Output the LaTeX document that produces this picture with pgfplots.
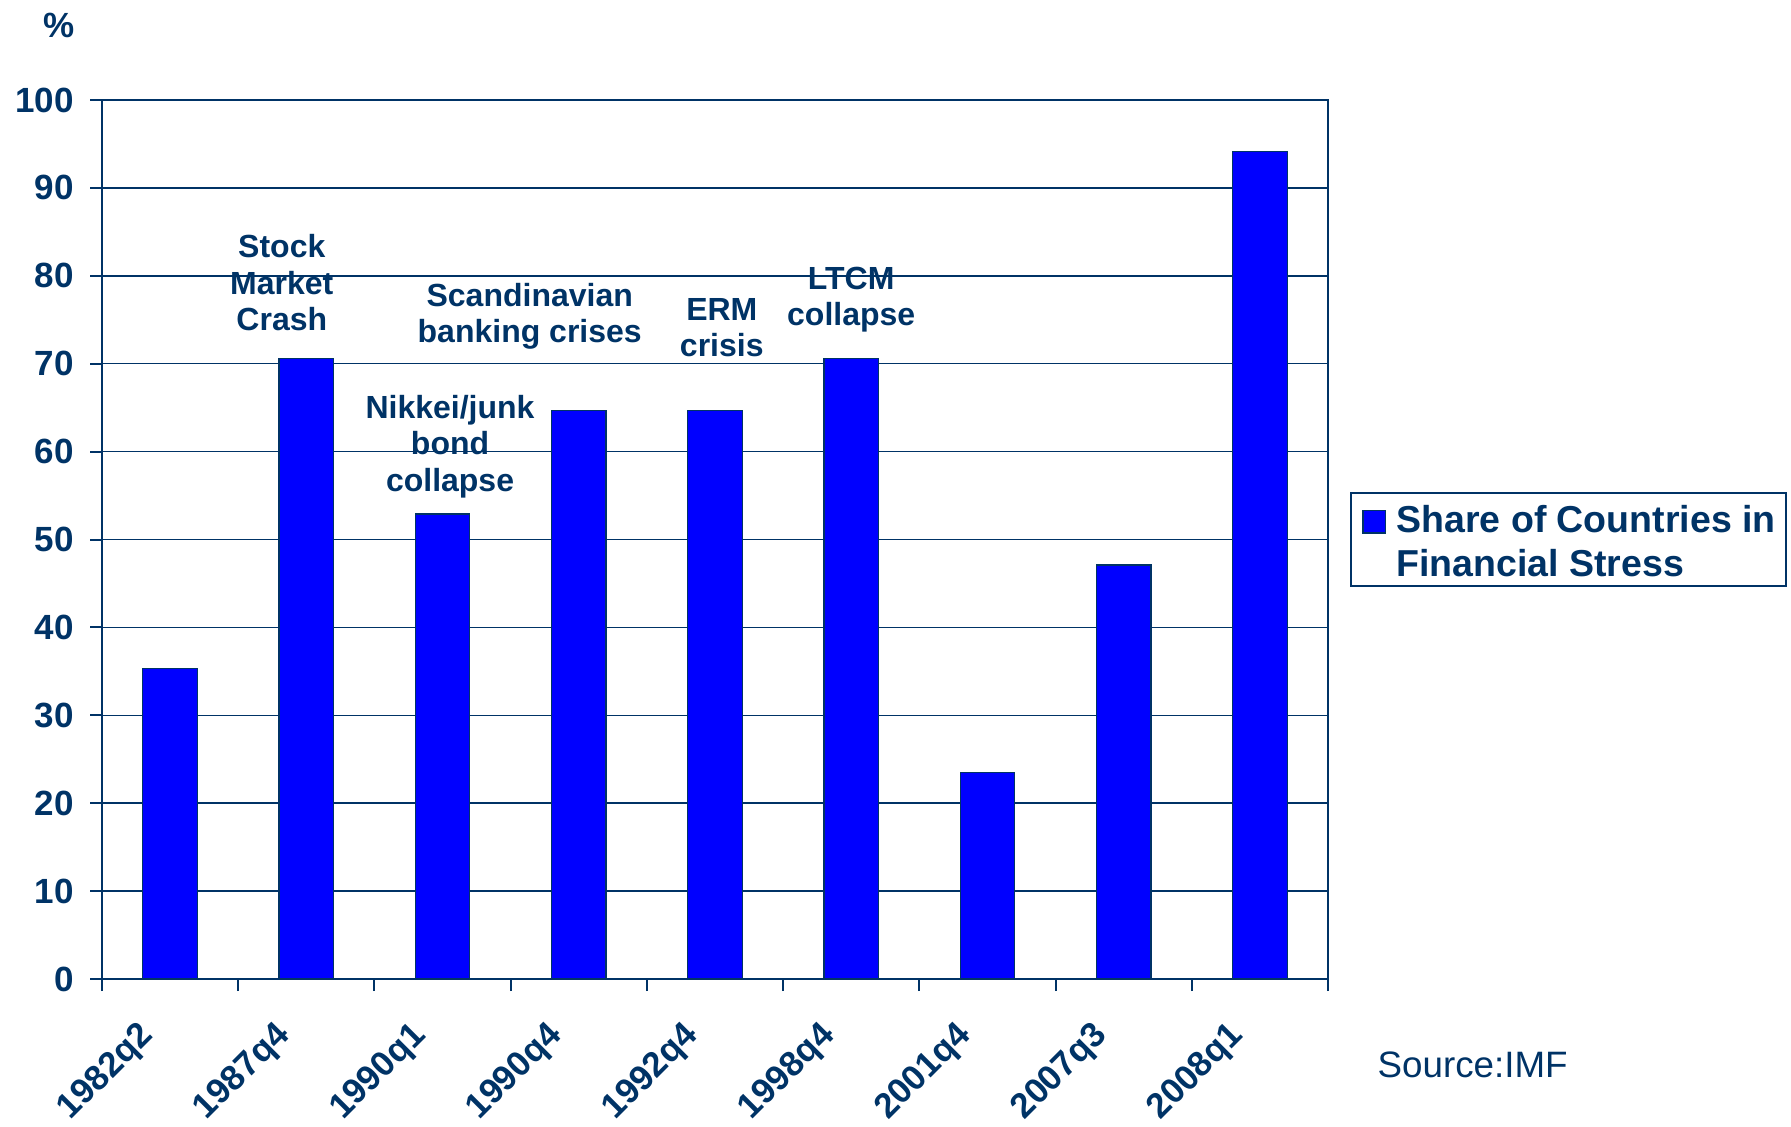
\documentclass[border=0pt]{standalone}
\usepackage{fontspec}
\setmainfont{Liberation Sans}
\usepackage{pgfplots}
\pgfplotsset{compat=1.18}
\definecolor{navy}{RGB}{0,51,102}
\definecolor{barblue}{RGB}{0,0,255}
\tikzset{annot/.style={font=\bfseries\fontsize{12.8}{14.6}\selectfont, text=navy, align=center}}
\begin{document}
\begin{tikzpicture}
\useasboundingbox (0,0) rectangle (716.4pt,450.4pt);
\begin{axis}[
  at={(40.8pt,58.8pt)}, anchor=south west,
  scale only axis, width=490.4pt, height=351.6pt,
  clip=false,
  xmin=0.5, xmax=9.5, ymin=0, ymax=100,
  xtick={1,...,9},
  xticklabels={1982q2,1987q4,1990q1,1990q4,1992q4,1998q4,2001q4,2007q3,2008q1},
  minor xtick={0.5,1.5,...,9.5},
  ytick={0,10,...,100},
  ymajorgrids, grid style={navy, line width=0.6pt},
  axis line style={navy, line width=0.8pt},
  tick align=outside, tick pos=left,
  major tick length=4.8pt, minor tick length=4.8pt,
  every tick/.style={navy, line width=0.8pt},
  major x tick style={draw=none},
  /pgf/number format/assume math mode=true,
  ticklabel style={font=\bfseries\fontsize{14}{16}\selectfont, text=navy},
  yticklabel style={xshift=-3pt},
  xticklabel style={xshift=-6.1pt, yshift=-13.3pt, rotate=45, anchor=east},
  legend image code/.code={\path[draw=none, fill=none] (0pt,0pt) rectangle (14.2pt,1pt);
    \draw[fill=barblue, draw=navy, line width=0.5pt] (2.8pt,2.6pt) rectangle (11.9pt,11.7pt);},
  legend style={at={(1,0.5)}, anchor=west, xshift=8.8pt, draw=navy, line width=0.8pt,
    font=\bfseries\fontsize{15}{17.4}\selectfont, text=navy,
    cells={align=left, anchor=west}, inner xsep=2pt, inner ysep=0.3pt},
]
\addplot[ybar, bar width=0.4, fill=barblue, draw=navy, line width=0.5pt]
  coordinates {(1,35.3) (2,70.6) (3,52.9) (4,64.7) (5,64.7) (6,70.6) (7,23.5) (8,47.1) (9,94.1)};
\addlegendentry{\rule{0pt}{13.5pt}Share of Countries in\\Financial Stress}
\node[annot] at (axis cs:1.82,79.2) {Stock\\Market\\Crash};
\node[annot] at (axis cs:3.055,60.6) {Nikkei/junk\\bond\\collapse};
\node[annot] at (axis cs:3.64,75.4) {Scandinavian\\banking crises};
\node[annot] at (axis cs:5.05,74.1) {ERM\\crisis};
\node[annot] at (axis cs:6.0,77.3) {LTCM\\collapse};
\node[font=\bfseries\fontsize{14}{16}\selectfont, text=navy] at (rel axis cs:-0.0347,1.0853) {\%};
\node[font=\fontsize{14.7}{16}\selectfont, text=navy] at (rel axis cs:1.118,-0.0973) {Source:IMF};
\end{axis}
\end{tikzpicture}
\end{document}
